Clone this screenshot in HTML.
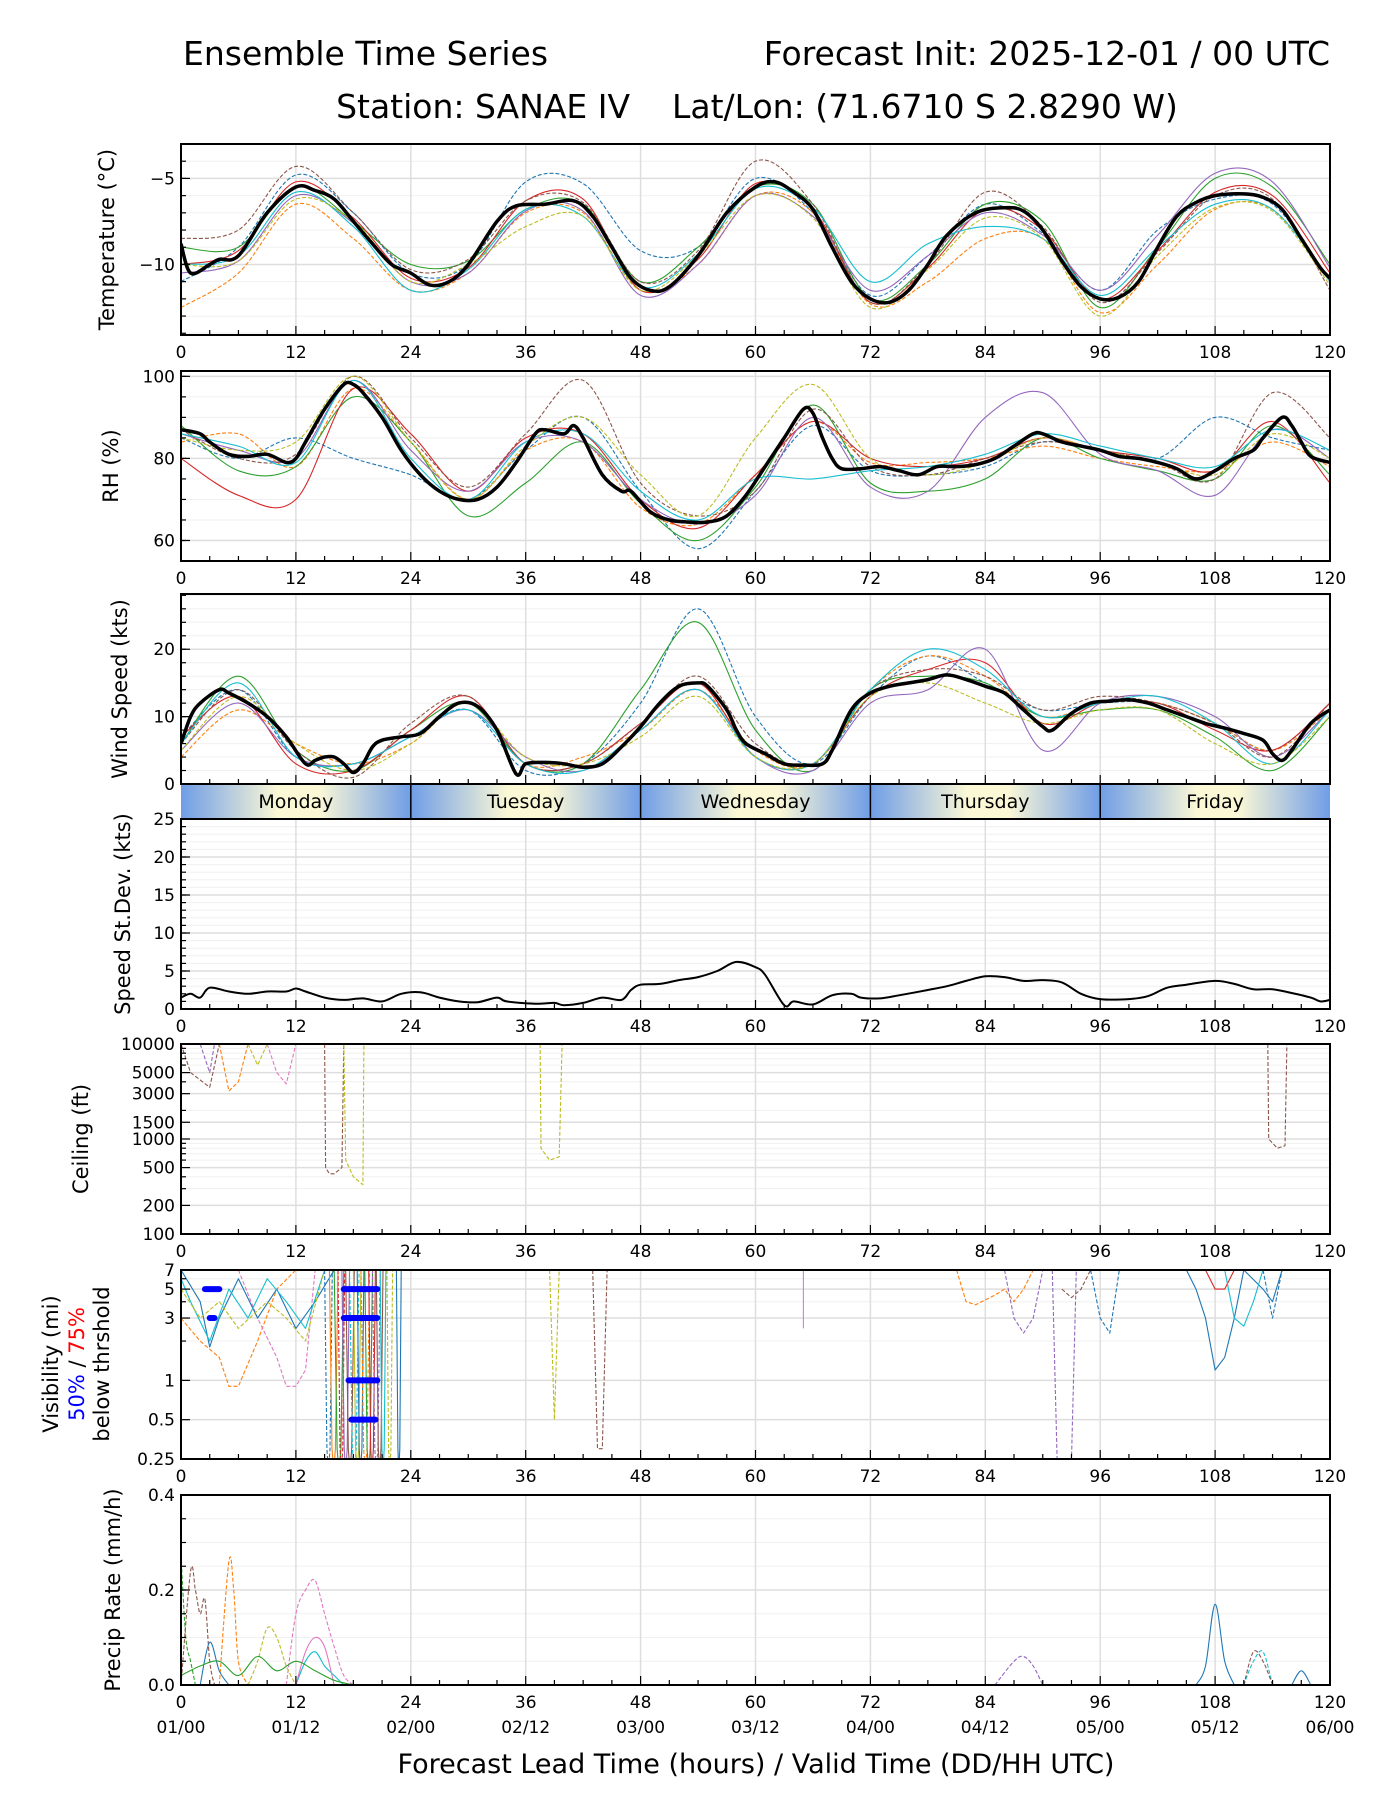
<!DOCTYPE html>
<html><head><meta charset="utf-8"><style>
html,body{margin:0;padding:0;background:#fff;}
svg{display:block;font-family:"DejaVu Sans","Liberation Sans",sans-serif;}
</style></head><body>
<svg id="chart" width="1400" height="1800" viewBox="0 0 1400 1800" xmlns="http://www.w3.org/2000/svg">
<defs>
<linearGradient id="dayGrad" x1="0" x2="1" y1="0" y2="0">
<stop offset="0" stop-color="#6f9de6"/><stop offset="0.42" stop-color="#fbf8d6"/><stop offset="0.6" stop-color="#fbf8d6"/><stop offset="1" stop-color="#6f9de6"/>
</linearGradient>
</defs>
<text x="183" y="65" font-size="33">Ensemble Time Series</text>
<text x="1330" y="65" font-size="33" text-anchor="end">Forecast Init: 2025-12-01 / 00 UTC</text>
<text x="757" y="118" font-size="33" text-anchor="middle">Station: SANAE IV&#160;&#160;&#160;&#160;Lat/Lon: (71.6710 S 2.8290 W)</text>
<g id="layer"></g>
</svg>
<script>
// ---- data ----
const xTicks = [0,12,24,36,48,60,72,84,96,108,120];
const validLabels = ["01/00","01/12","02/00","02/12","03/00","03/12","04/00","04/12","05/00","05/12","06/00"];
const dayNames = ["Monday","Tuesday","Wednesday","Thursday","Friday"];
const memberColors = ["#1f77b4","#ff7f0e","#2ca02c","#d62728","#9467bd","#8c564b","#17becf","#bcbd22"];
const memberDash = [true,true,false,false,false,true,false,true];
const hours6 = [0,6,12,18,24,30,36,42,48,54,60,66,72,78,84,90,96,102,108,114,120];

const tempMeanH = [0,1,3,4,6,9,12,14,16,18,20,22,24,26,28,30,33,35,38,41,43,45,47,49,51,54,57,60,62,64,66,68,70,72,74,76,78,80,83,86,88,90,92,94,96,98,100,102,104,106,108,111,113,115,117,119,120];
const tempMeanV = [-8.8,-10.5,-10,-9.7,-9.5,-7,-5.5,-5.7,-6.2,-7.5,-8.8,-10,-10.5,-11.2,-11,-10,-7.5,-6.6,-6.5,-6.3,-7.2,-9,-10.8,-11.5,-11.3,-9.5,-7,-5.5,-5.2,-5.8,-6.8,-9,-11,-12,-12.2,-11.5,-10,-8.3,-7,-6.7,-6.9,-8,-9.8,-11.3,-12,-11.9,-11,-9,-7.2,-6.4,-6,-5.9,-6.1,-6.8,-8.5,-10.2,-10.8];
const tempM1 = [-11,-9,-4.8,-7,-10.5,-10,-5.2,-5.3,-9.2,-9,-5,-7,-11.8,-9.5,-6.5,-8.2,-11.5,-8,-6.2,-6.5,-11];
const tempM2 = [-12.5,-10.5,-6.5,-8.5,-11.5,-10.5,-7,-7,-11.5,-10,-6,-7,-12.3,-11,-8.5,-8.5,-12.8,-10,-6.8,-6.8,-11];
const tempM3 = [-9,-9,-5.5,-7.5,-10,-9.8,-6.8,-6.5,-11,-9,-5.5,-6.5,-12,-10,-6.5,-7.5,-12.5,-9,-5,-5.5,-10];
const tempM4 = [-10,-9.2,-5.2,-7.3,-10.8,-10.2,-6.3,-6.2,-11.5,-9.7,-5.3,-6.8,-12.2,-10.2,-6.8,-8,-12,-9.2,-5.8,-6,-10.5];
const tempM5 = [-10.5,-9.8,-6,-7.6,-11,-10.5,-6.9,-6.9,-11.8,-10,-6,-7.2,-11.5,-9.5,-7,-8.3,-11.5,-8.3,-4.7,-5.2,-10.2];
const tempM6 = [-8.5,-8,-4.3,-7,-10.3,-9.7,-6.3,-6.4,-11,-9.2,-4,-6.5,-12.2,-10,-5.8,-7.8,-12.2,-9.3,-6,-6.2,-11.5];
const tempM7 = [-10,-9.5,-5.8,-7.8,-11.5,-10.3,-6.8,-7.2,-11.3,-9.4,-5.6,-6.7,-11,-8.8,-7.8,-8.5,-11.8,-9,-6.5,-6.8,-11];
const tempM8 = [-10,-9.8,-6.2,-7.5,-11,-10,-7.8,-7.2,-11.5,-9.5,-6,-7.3,-12.5,-10.3,-7.3,-8.5,-13,-9.5,-6.7,-6.9,-11.2];

const rhMeanH = [0,2,3,5,7,9,11,12,13,15,17,18,19,21,23,25,27,29,31,33,35,37,38,40,41,42,44,46,47,49,51,53,55,57,59,61,63,65,66,67,68,69,71,73,75,77,79,81,83,85,87,89,90,92,94,96,98,100,102,104,106,108,110,112,113,115,116,117,118,120];
const rhMeanV = [87,86,84,81,80.5,81,79,80,84,92,98,98,96,90,82,76,72,70,70,73,79,86,87,86,88,85,76,72,72,67,65,64.5,64.5,66,71,78,85,92,91,85,80,77.5,77.5,78,77,76,78,78,78.5,80,83,86,86,84,83,82,80.5,80,79,77.5,75,77,80,82,85,90,88,84,80.5,79];
const rhM1 = [85,80,85,80,76,70,82,90,72,58,72,88,77,76,78,84,82,80,90,85,82];
const rhM2 = [84,86,78,97,84,70,82,84,68,64,76,89,79,79,80,83,80,78,77,84,78];
const rhM3 = [88,77,78,95,84,66,74,84,69,60,73,93,74,72,75,85,80,77,75,88,76];
const rhM4 = [80,71,70,97,86,72,85,86,70,63,76,89,80,78,80,85,82,80,77,89,74];
const rhM5 = [86,82,80,99,82,72,84,84,70,64,71,90,73,72,90,96,81,77,71,87,80];
const rhM6 = [87,80,81,100,85,73,86,99,74,66,72,92,78,76,80,84,82,79,75,96,85];
const rhM7 = [86,83,79,99,80,70,84,86,72,65,75,75,77,78,81,86,83,80,78,87,82];
const rhM8 = [85,82,84,100,84,70,83,90,76,66,85,98,80,76,79,85,82,79,76,86,80];

const windMeanH = [0,1,2,4,5,7,9,11,13,14,15,16,17,18,19,20,21,23,25,27,29,31,33,35,36,38,40,42,44,46,48,50,52,54,55,57,58,59,61,63,65,67,68,70,72,74,76,78,80,82,84,86,88,90,91,93,95,97,99,101,103,105,107,109,111,113,114,115,116,118,120];
const windMeanV = [6,10,12,14,13.5,12,10,7,3,3.5,4,4,3,1.7,3,5.5,6.5,7,7.5,10,12,11.5,8,1.5,3,3.2,3,2.5,3,5.5,8.5,12,14.5,15,14.5,11,8,6,4.5,3,2.8,3,5,11,13.5,14.5,15,15.5,16.2,15.5,14.5,13.5,11,8.5,8,10.5,12,12.3,12.5,12,11,10,9,8.3,7.5,6.5,4.5,3.5,5,9,11];
const windM1 = [7,14,4,3,7,11,2,3,12,26,10,3,13,19,15,11,12,12,9,5,12];
const windM2 = [4,11,6,3,6,12,3,4,8,14,5,3,14,19,16,10,12,12,9,5,11];
const windM3 = [6,16,5,2,8,12,3,3,14,24,8,2,14,16,15,10,11,11,7,2,10];
const windM4 = [7,13,3,2,8,13,3,3,9,15,4,3,13,17,18,9,12,12,8,5,12];
const windM5 = [5,12,4,3,7,11,4,2,8,14,4,2,12,14,20,5,12,13,10,4,11];
const windM6 = [6,14,5,1,9,13,3,3,9,16,6,3,14,17,16,11,13,12,9,4,12];
const windM7 = [6,15,4,3,7,11,3,2,8,14,4,3,14,20,17,10,12,13,9,3,11];
const windM8 = [5,13,6,2,6,12,4,3,7,13,4,3,13,15,12,9,11,11,6,3,10];

const sdH = [0,1,2,3,5,7,9,11,12,13,15,17,19,21,23,25,27,29,31,33,34,37,39,40,42,44,46,47,48,50,52,54,56,58,60,61,63,64,66,68,70,71,73,75,78,80,82,84,86,88,90,92,94,96,99,101,103,105,108,110,112,114,116,118,119,120];
const sdV = [1.5,2,1.5,2.8,2.3,2,2.3,2.3,2.7,2.3,1.5,1.2,1.4,1,2,2.2,1.5,1,0.9,1.5,1,0.7,0.8,0.5,0.8,1.5,1.2,2.5,3.2,3.3,3.8,4.2,5,6.2,5.5,4.5,0.5,1,0.6,1.8,2,1.5,1.4,1.8,2.5,3,3.7,4.3,4.2,3.7,3.8,3.5,2,1.3,1.3,1.7,2.8,3.2,3.7,3.3,2.6,2.6,2.1,1.5,1,1.2];

const ceilTicks = [100,200,500,1000,1500,3000,5000,10000];
const ceilH = [[2,3,3.5],[0,1,3,4],[4,5,6,7],[9,10,11,12],[7,8,9],[15,15.1,15.5,16,16.8,17],[17,17.2,18,19,19.1],[37.5,37.6,38.5,39.5,39.8],[113.5,113.6,114.5,115.3,115.5]];
const ceilV = [[10000,5000,10000],[10000,5000,3500,10000],[10000,3200,4000,10000],[10000,5000,3800,10000],[10000,6000,10000],[10000,500,430,430,500,10000],[10000,600,400,330,10000],[10000,800,600,650,10000],[10000,1000,800,850,10000]];
const ceilC = ["#9467bd","#8c564b","#ff7f0e","#e377c2","#bcbd22","#8c564b","#bcbd22","#bcbd22","#8c564b"];

const visTicks = [0.25,0.5,1,3,5,7];
const visH = [[0,2,4,5,6,8,10,12,14],[6,8,10,11,12,13,14],[0,2,3,4,6,8,10,12,14,16],[0,1,3,5,7,9,11,13,15],[0,2,4,6,9,11,13,15],[38.5,39,39.5],[43,43.5,44,44.5],[65,65],[81,82,83,85,86,87,88,89],[86,87,88,89,90],[91,91.5,92,93,93.5],[92,93,94,95],[95,96,97,98],[107,108,109,110],[105,106,107,108,109,110,111,113,114,115],[109,110,111,112,113],[113,114,115]];
const visV = [[3,2,1.5,0.9,0.9,2,5,7,7],[7,3,1.5,0.9,0.9,1.2,7],[7,4,1.8,3,6,3,5,2.5,4,7],[6,4,2,5,3,6,4,2.5,7],[5,3,4,2.5,4,3,2,7],[7,0.5,7],[7,0.3,0.3,7],[7,2.5],[7,4,3.8,4.5,5,4,5,7],[7,3,2.3,3,7],[7,0.25,0.2,0.25,7],[5,4.3,5,7],[7,3,2.3,7],[7,5,5,7],[7,5,3,1.2,1.5,3,7,5,4,7],[7,3,2.6,4,7],[7,3,7]];
const visC = ["#ff7f0e","#e377c2","#1f77b4","#17becf","#bcbd22","#bcbd22","#8c564b","#e377c2","#ff7f0e","#9467bd","#9467bd","#8c564b","#1f77b4","#d62728","#1f77b4","#17becf","#1f77b4"];
const visD = [true,true,false,false,true,true,true,false,true,true,true,true,true,false,false,false,true];
const visDipStart = [15,15.5,16,16.4,16.8,17.2,17.6,18,18.4,18.8,19.2,19.6,20,20.4,20.8,21.5,22.5];
const visDipWidth = [0.8,0.9,1,0.7,0.8,0.9,1,0.8,0.7,0.9,0.8,0.7,0.8,0.7,0.6,0.6,0.5];
const visBarH0 = [2.5,3,17,17,17.5,17.8];
const visBarH1 = [4,3.5,20.5,20.5,20.5,20.3];
const visBarV = [5,3,5,3,1,0.5];

const prH = [[0,0.5,1,1.5],[0,1,1.5,2,2.5,3,3.5],[4,5,5.5,6,7],[11,12,13,14,15,16,17,18],[7,8,9,10,11,12],[2,3,4,5],[12,13,14,15,16,17],[12,13,14,15,16],[0,2,4,6,8,10,12,14,16,18],[85,87,88,89,90],[106,107,108,109,110],[111,112,113,114],[111,112,113,114],[116,117,118]];
const prV = [[0.27,0.1,0.05,0],[0,0.24,0.2,0.15,0.18,0.05,0],[0,0.26,0.2,0.05,0],[0,0.15,0.2,0.22,0.15,0.08,0.02,0],[0,0.05,0.12,0.1,0.04,0],[0,0.09,0.03,0],[0,0.05,0.07,0.04,0.02,0],[0,0.07,0.1,0.08,0],[0.02,0.04,0.05,0.02,0.06,0.03,0.05,0.03,0.01,0],[0,0.05,0.06,0.04,0],[0,0.04,0.17,0.05,0],[0,0.05,0.07,0],[0,0.07,0.05,0],[0,0.03,0]];
const prC = ["#2ca02c","#8c564b","#ff7f0e","#e377c2","#bcbd22","#1f77b4","#17becf","#e377c2","#2ca02c","#9467bd","#1f77b4","#17becf","#8c564b","#1f77b4"];
const prD = [true,true,true,true,true,false,false,false,false,true,false,true,true,false];

// ---- layout ----
const NS = "http://www.w3.org/2000/svg";
const layer = document.getElementById('layer');
const X0 = 181, X1 = 1330;
function xs(h){ return X0 + (X1 - X0) * h / 120; }
function mk(tag, attrs, parent){
  const e = document.createElementNS(NS, tag);
  for (const k in attrs) e.setAttribute(k, attrs[k]);
  (parent || layer).appendChild(e);
  return e;
}
function linY(top, bot, lo, hi){ return v => bot - (v - lo) / (hi - lo) * (bot - top); }
function logY(top, bot, lo, hi){ return v => bot - (Math.log(v) - Math.log(lo)) / (Math.log(hi) - Math.log(lo)) * (bot - top); }

function pathD(hs, vs, ys, smooth){
  const p = hs.map((h,i)=>[xs(h), ys(vs[i])]);
  if (!smooth || p.length < 3) return 'M' + p.map(q=>q[0].toFixed(1)+','+q[1].toFixed(1)).join('L');
  let d = 'M' + p[0][0].toFixed(1) + ',' + p[0][1].toFixed(1);
  for (let i=0;i<p.length-1;i++){
    const a = p[Math.max(0,i-1)], b = p[i], c = p[i+1], e = p[Math.min(p.length-1,i+2)];
    const c1x = b[0] + (c[0]-a[0])/6, c1y = b[1] + (c[1]-a[1])/6;
    const c2x = c[0] - (e[0]-b[0])/6, c2y = c[1] - (e[1]-b[1])/6;
    d += 'C' + c1x.toFixed(1)+','+c1y.toFixed(1)+' '+c2x.toFixed(1)+','+c2y.toFixed(1)+' '+c[0].toFixed(1)+','+c[1].toFixed(1);
  }
  return d;
}
function series(g, hs, vs, ys, color, dashed, width, smooth, name){
  const e = mk('path', {d: pathD(hs, vs, ys, smooth), fill:'none', stroke: color, 'stroke-width': width, 'stroke-dasharray': dashed ? '4,2' : 'none', 'stroke-linejoin':'round'}, g);
  
  
  return e;
}

function panel(name, top, bot, ys, yTicks, yLabels, minorTicks, label, labelX, showX){
  const g = mk('g', {});
  
  
  const clipId = 'clip-' + name;
  const cp = mk('clipPath', {id: clipId}, g);
  mk('rect', {x:X0, y:top, width:X1-X0, height:bot-top}, cp);
  minorTicks.forEach(v=>{ mk('line', {x1:X0, x2:X1, y1:ys(v), y2:ys(v), stroke:'#f0f0f0', 'stroke-width':1}, g); });
  yTicks.forEach(v=>{ mk('line', {x1:X0, x2:X1, y1:ys(v), y2:ys(v), stroke:'#dedede', 'stroke-width':1.5}, g); });
  xTicks.forEach(h=>{ mk('line', {x1:xs(h), x2:xs(h), y1:top, y2:bot, stroke:'#dedede', 'stroke-width':1.5}, g); });
  const inner = mk('g', {'clip-path':'url(#'+clipId+')'}, g);
  const fr = mk('rect', {x:X0, y:top, width:X1-X0, height:bot-top, fill:'none', stroke:'#000', 'stroke-width':2}, g);
  
  
  for (let h=0; h<=120; h+=3){
    const major = h % 12 === 0;
    mk('line', {x1:xs(h), x2:xs(h), y1:bot, y2:bot-(major?9:5), stroke:'#000', 'stroke-width':1.2}, g);
  }
  minorTicks.forEach(v=>{ mk('line', {x1:X0, x2:X0+5, y1:ys(v), y2:ys(v), stroke:'#000', 'stroke-width':1.2}, g); });
  yTicks.forEach((v,i)=>{
    mk('line', {x1:X0, x2:X0+9, y1:ys(v), y2:ys(v), stroke:'#000', 'stroke-width':1.2}, g);
    const t = mk('text', {x:X0-6, y:ys(v)+6, 'font-size':17, 'text-anchor':'end'}, g);
    t.textContent = yLabels[i];
    
    
  });
  if (showX){
    xTicks.forEach(h=>{
      const t = mk('text', {x:xs(h), y:bot+23, 'font-size':17, 'text-anchor':'middle'}, g);
      t.textContent = String(h);
      
      
    });
  }
  if (label){
    const cy = (top+bot)/2;
    const t = mk('text', {x:labelX, y:cy, 'font-size':21, 'text-anchor':'middle', transform:'rotate(-90 '+labelX+' '+cy+')'}, g);
    t.textContent = label;
    
    
  }
  return inner;
}
function range(a,b,s){ const r=[]; for(let v=a; v<=b+1e-9; v+=s) r.push(v); return r; }

// Temperature
const tY = linY(144, 335, -14.1, -3.0);
const tG = panel('temperature', 144, 335, tY, [-10,-5], ['−10','−5'], range(-14,-3,1), 'Temperature (°C)', 114, true);
[tempM1,tempM2,tempM3,tempM4,tempM5,tempM6,tempM7,tempM8].forEach((m,i)=>series(tG, hours6, m, tY, memberColors[i], memberDash[i], 1.1, true, 'temperature-member-line'));
series(tG, tempMeanH, tempMeanV, tY, '#000', false, 3.5, true, 'temperature-mean-line');

// RH
const rY = linY(371, 561, 55, 101.3);
const rG = panel('rh', 371, 561, rY, [60,80,100], ['60','80','100'], range(55,100,5), 'RH (%)', 118, true);
[rhM1,rhM2,rhM3,rhM4,rhM5,rhM6,rhM7,rhM8].forEach((m,i)=>series(rG, hours6, m, rY, memberColors[i], memberDash[i], 1.1, true, 'rh-member-line'));
series(rG, rhMeanH, rhMeanV, rY, '#000', false, 3.5, true, 'rh-mean-line');

// Wind
const wY = linY(594, 784, 0, 28.2);
const wG = panel('wind', 594, 784, wY, [0,10,20], ['0','10','20'], range(0,28,2), 'Wind Speed (kts)', 127, false);
[windM1,windM2,windM3,windM4,windM5,windM6,windM7,windM8].forEach((m,i)=>series(wG, hours6, m, wY, memberColors[i], memberDash[i], 1.1, true, 'wind-member-line'));
series(wG, windMeanH, windMeanV, wY, '#000', false, 3.5, true, 'wind-mean-line');

// Day strip
dayNames.forEach((d,i)=>{
  const r = mk('rect', {x:xs(i*24), y:785, width:xs(24)-xs(0), height:33, fill:'url(#dayGrad)'});
  
  
  const t = mk('text', {x:xs(i*24+12), y:808, 'font-size':19, 'text-anchor':'middle'});
  t.textContent = d;
  
  
  if (i>0) mk('line', {x1:xs(i*24), x2:xs(i*24), y1:785, y2:818, stroke:'#000', 'stroke-width':1.5});
});

// StDev
const sY = linY(819, 1009, 0, 25);
const sG = panel('speed-stdev', 819, 1009, sY, [0,5,10,15,20,25], ['0','5','10','15','20','25'], range(0,25,1), 'Speed St.Dev. (kts)', 130, true);
series(sG, sdH, sdV, sY, '#000', false, 2, true, 'speed-stdev-line');

// Ceiling
const cY = logY(1044, 1234, 100, 10000);
const cG = panel('ceiling', 1044, 1234, cY, ceilTicks, ceilTicks.map(String), [300,400,600,700,800,900,2000,4000,6000,7000,8000,9000], 'Ceiling (ft)', 88, true);
ceilH.forEach((h,i)=>series(cG, h, ceilV[i], cY, ceilC[i], true, 1.1, false, 'ceiling-member-line'));

// Visibility
const vY = logY(1270, 1459, 0.25, 7);
const vG = panel('visibility', 1270, 1459, vY, visTicks, ['0.25','0.5','1','3','5','7'], [2,4,6], null, 0, true);
visH.forEach((h,i)=>series(vG, h, visV[i], vY, visC[i], visD[i], 1.1, false, 'visibility-member-line'));
visDipStart.forEach((h,i)=>{
  const w = visDipWidth[i];
  series(vG, [h, h+w*0.3, h+w*0.5, h+w*0.7, h+w], [7,0.3,0.2,0.3,7], vY, memberColors[i%8], i%3===0, 1.1, false, 'visibility-dip-line');
});
visBarV.forEach((v,i)=>{
  const b = mk('line', {x1:xs(visBarH0[i]), x2:xs(visBarH1[i]), y1:vY(v), y2:vY(v), stroke:'#0000ff', 'stroke-width':6, 'stroke-linecap':'round'}, vG);
  
  
});
(function(){
  const cy = 1364;
  const g = mk('g', {transform:'rotate(-90 0 0)'});
  const t1 = mk('text', {x:-cy, y:58, 'font-size':21, 'text-anchor':'middle'}, g);
  t1.textContent = 'Visibility (mi)';
  
  
  const t2 = mk('text', {x:-cy, y:84, 'font-size':21, 'text-anchor':'middle'}, g);
  const a = mk('tspan', {fill:'#0000ff'}, t2); a.textContent = '50%';
  const b = mk('tspan', {fill:'#000'}, t2); b.textContent = ' / ';
  const c = mk('tspan', {fill:'#ff0000'}, t2); c.textContent = '75%';
  
  
  const t3 = mk('text', {x:-cy, y:109, 'font-size':21, 'text-anchor':'middle'}, g);
  t3.textContent = 'below thrshold';
  
  
})();

// Precip
const pY = linY(1495, 1685, 0, 0.4);
const pG = panel('precip', 1495, 1685, pY, [0,0.2,0.4], ['0.0','0.2','0.4'], range(0,0.4,0.05), 'Precip Rate (mm/h)', 120, true);
prH.forEach((h,i)=>series(pG, h, prV[i], pY, prC[i], prD[i], 1.1, true, 'precip-member-line'));
validLabels.forEach((s,i)=>{
  const t = mk('text', {x:xs(xTicks[i]), y:1733, 'font-size':17, 'text-anchor':'middle'});
  t.textContent = s;
  
  
});
const xl = mk('text', {x:756, y:1773, 'font-size':27, 'text-anchor':'middle'});
xl.textContent = 'Forecast Lead Time (hours) / Valid Time (DD/HH UTC)';


</script>
</body></html>
